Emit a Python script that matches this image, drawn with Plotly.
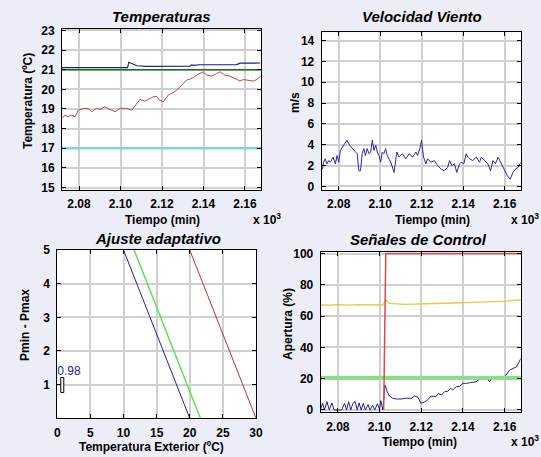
import plotly.graph_objects as go

# ---------------- data ----------------
TIME_TICKS = [2.08, 2.10, 2.12, 2.14, 2.16]
TIME_TICK_TEXT = ["2.08", "2.10", "2.12", "2.14", "2.16"]
TEXT_TICKS = [0, 5, 10, 15, 20, 25, 30]

# Temperaturas (time in thousands of minutes)
t_int = [2.0718, 2.0733, 2.0748, 2.0765, 2.0781, 2.0797, 2.0821, 2.0845, 2.0861, 2.0885,
         2.0901, 2.0925, 2.0949, 2.0974, 2.0998, 2.1030, 2.1054, 2.1078, 2.1094, 2.1118,
         2.1142, 2.1158, 2.1174, 2.1187, 2.1206, 2.1230, 2.1247, 2.1271, 2.1295, 2.1319,
         2.1335, 2.1351, 2.1375, 2.1399, 2.1416, 2.1440, 2.1464, 2.1480, 2.1504, 2.1528,
         2.1552, 2.1576, 2.1592, 2.1616, 2.1640, 2.1657, 2.1676]
temp_int = [18.52, 18.69, 18.60, 18.69, 18.60, 18.94, 19.03, 19.03, 18.86, 19.03,
            18.98, 19.11, 18.98, 18.86, 19.03, 19.03, 18.94, 19.28, 19.49, 19.40,
            19.54, 19.62, 19.65, 19.45, 19.37, 19.71, 19.79, 19.96, 20.21, 20.47,
            20.52, 20.60, 20.77, 20.89, 20.72, 20.67, 20.81, 20.89, 20.72, 20.67,
            20.55, 20.42, 20.50, 20.47, 20.42, 20.50, 20.67]

t_ref = [2.0718, 2.0760, 2.0765, 2.0770, 2.0870, 2.0875, 2.0880, 2.0935, 2.0940, 2.0945,
         2.0970, 2.0975, 2.0980, 2.1034, 2.1040, 2.1060, 2.1079, 2.1126, 2.1335, 2.1343,
         2.1351, 2.1383, 2.1560, 2.1576, 2.1673]
temp_ref = [21.10, 21.10, 21.13, 21.10, 21.10, 21.13, 21.10, 21.10, 21.13, 21.10,
            21.10, 21.13, 21.10, 21.10, 21.38, 21.28, 21.20, 21.17, 21.18, 21.24,
            21.22, 21.25, 21.26, 21.33, 21.34]

t_span = [2.0718, 2.1680]
temp_consigna = [21.0, 21.0]
temp_min = [17.0, 17.0]

# Velocidad viento
t_wind = [2.0722, 2.0727, 2.0735, 2.0743, 2.0752, 2.0760, 2.0773, 2.0784, 2.0792, 2.0800,
          2.0808, 2.0824, 2.0840, 2.0853, 2.0865, 2.0873, 2.0881, 2.0889, 2.0897, 2.0905,
          2.0913, 2.0921, 2.0929, 2.0937, 2.0946, 2.0954, 2.0962, 2.0970, 2.0978, 2.0986,
          2.0994, 2.1002, 2.1010, 2.1018, 2.1026, 2.1034, 2.1051, 2.1067, 2.1080, 2.1091,
          2.1107, 2.1123, 2.1140, 2.1156, 2.1172, 2.1180, 2.1191, 2.1199, 2.1209, 2.1220,
          2.1228, 2.1245, 2.1261, 2.1277, 2.1293, 2.1309, 2.1325, 2.1334, 2.1345, 2.1358,
          2.1369, 2.1382, 2.1390, 2.1403, 2.1414, 2.1422, 2.1430, 2.1446, 2.1463, 2.1479,
          2.1487, 2.1503, 2.1519, 2.1532, 2.1543, 2.1555, 2.1568, 2.1576, 2.1587, 2.1600,
          2.1613, 2.1626, 2.1640, 2.1652, 2.1665, 2.1678]
wind = [1.67, 2.32, 2.65, 2.16, 2.48, 2.32, 2.81, 2.16, 2.97, 2.32,
        3.46, 3.95, 4.44, 3.95, 3.63, 3.46, 3.30, 3.14, 1.50, 1.50,
        3.14, 3.63, 2.97, 3.63, 3.14, 3.30, 4.44, 3.46, 3.95, 3.30,
        2.97, 2.32, 3.30, 3.14, 3.63, 2.97, 2.32, 1.34, 3.30, 2.81,
        3.14, 2.65, 3.14, 2.81, 3.30, 2.97, 3.63, 4.44, 2.81, 2.16,
        2.65, 2.32, 2.48, 1.99, 1.67, 1.50, 1.83, 2.48, 1.99, 2.16,
        1.34, 2.16, 2.32, 2.16, 3.14, 2.81, 2.65, 2.48, 2.81, 2.32,
        2.81, 2.48, 2.16, 1.50, 2.48, 2.16, 2.81, 2.48, 1.99, 1.50,
        1.01, 0.69, 1.34, 1.67, 1.83, 2.32]

# Ajuste adaptativo
tex_blue = [10.0, 20.0]
tex_green = [11.6, 21.6]
tex_red = [20.0, 30.0]
p_lines = [5.0, 0.0]
ajuste_x = [0.8]
ajuste_base = [0.75]
ajuste_h = [0.45]
ajuste_label = "0.98"

# Senales de control
t_yel = [2.0717, 2.0760, 2.0800, 2.0850, 2.0900, 2.0950, 2.1000, 2.1015, 2.1031, 2.1047,
         2.1120, 2.1218, 2.1348, 2.1446, 2.1608, 2.1681]
ap_yel = [67.1, 67.0, 67.4, 67.0, 67.4, 67.2, 67.0, 67.1, 70.3, 68.2,
          67.5, 67.7, 68.4, 68.8, 69.6, 70.5]

t_blue = [2.0717, 2.0727, 2.0736, 2.0748, 2.0759, 2.0772, 2.0782, 2.0819, 2.0832, 2.0842,
          2.0852, 2.0862, 2.0873, 2.0883, 2.0893, 2.0902, 2.0912, 2.0922, 2.0932, 2.0945,
          2.0954, 2.0967, 2.0977, 2.0990, 2.1000, 2.1006, 2.1016, 2.1026, 2.1036, 2.1047,
          2.1063, 2.1080, 2.1104, 2.1128, 2.1153, 2.1169, 2.1185, 2.1198, 2.1215, 2.1231,
          2.1247, 2.1259, 2.1270, 2.1283, 2.1296, 2.1312, 2.1328, 2.1340, 2.1351, 2.1368,
          2.1384, 2.1400, 2.1416, 2.1437, 2.1462, 2.1481, 2.1494, 2.1514, 2.1527, 2.1540,
          2.1559, 2.1592, 2.1605, 2.1625, 2.1641, 2.1657, 2.1668, 2.1678]
ap_blue = [0.0, 4.5, 0.0, 5.3, 0.0, 4.5, 0.0, 0.0, 4.3, 0.0,
           5.3, 0.0, 4.3, 5.5, 0.0, 4.5, 0.0, 4.3, 0.0, 3.5,
           0.0, 3.0, 0.0, 4.0, 0.5, 6.0, 0.0, 16.0, 12.0, 9.0,
           7.5, 7.0, 7.0, 7.5, 7.5, 9.0, 8.0, 4.3, 5.0, 6.4,
           8.9, 8.5, 8.5, 10.6, 9.5, 11.7, 12.0, 13.8, 12.8, 14.9,
           15.0, 17.0, 17.0, 17.5, 18.0, 20.0, 20.8, 20.8, 18.0, 20.8,
           20.8, 20.8, 22.0, 25.6, 26.6, 27.5, 30.5, 33.0]

t_red = [2.1020, 2.1023, 2.1030, 2.1680]
ap_red = [0.0, 25.0, 100.0, 100.0]
ap_green = [20.6, 20.6]

# ---------------- styling ----------------
BG = "#EDEDF8"
FONT = "Liberation Sans"
GRID = "#D0D0D0"
W, H = 541, 457

fig = go.Figure()

def line(x, y, color, width, xa, ya):
    fig.add_trace(go.Scatter(x=x, y=y, mode="lines", line=dict(color=color, width=width),
                             xaxis=xa, yaxis=ya, showlegend=False, hoverinfo="skip"))

# Temperaturas
line(t_span, temp_min, "#7ADADA", 2.5, "x", "y")
line(t_int, temp_int, "#C0484A", 1, "x", "y")
line(t_span, temp_consigna, "#1E6E1E", 1.5, "x", "y")
line(t_ref, temp_ref, "#1C1C8C", 1.2, "x", "y")

# Viento
line(t_wind, wind, "#2A2AA8", 1, "x2", "y2")

# Ajuste adaptativo
line(tex_blue, p_lines, "#22228E", 1, "x3", "y3")
line(tex_green, p_lines, "#5EE05E", 1.5, "x3", "y3")
line(tex_red, p_lines, "#B83434", 1, "x3", "y3")
fig.add_trace(go.Bar(x=ajuste_x, y=ajuste_h, base=ajuste_base, width=0.45,
                     marker=dict(color="white", line=dict(color="black", width=1)),
                     xaxis="x3", yaxis="y3", showlegend=False, hoverinfo="skip"))
fig.add_trace(go.Scatter(x=[0.0], y=[1.38], mode="text", text=[ajuste_label],
                         textposition="middle right",
                         textfont=dict(family=FONT, size=12, color="#1E1EB0"),
                         xaxis="x3", yaxis="y3", showlegend=False, hoverinfo="skip"))

# Senales de control
line(t_yel, ap_yel, "#EAC840", 1.3, "x4", "y4")
line(t_blue, ap_blue, "#22228E", 1, "x4", "y4")
line(t_span, ap_green, "#86E086", 4, "x4", "y4")
line(t_red, ap_red, "#E04848", 1.5, "x4", "y4")

tickfont = dict(family=FONT, size=12, color="black", weight="bold")
labelfont = dict(family=FONT, size=12, color="black", weight="bold")

def bold(labels):
    return ["<b>%s</b>" % s for s in labels]

def xax(domain, rng, anchor, tickvals, ticktext):
    return dict(domain=domain, range=rng, anchor=anchor, showline=True, linecolor="black",
                linewidth=1, mirror="ticks", ticks="inside", ticklen=4, tickcolor="black",
                showgrid=True, gridcolor=GRID, gridwidth=1.5, zeroline=False,
                tickfont=tickfont, tickmode="array", tickvals=tickvals,
                ticktext=bold(ticktext), ticklabelstandoff=3, automargin=False,
                fixedrange=True)

def yax(domain, rng, anchor, tickvals):
    return dict(domain=domain, range=rng, anchor=anchor, showline=True, linecolor="black",
                linewidth=1, mirror="ticks", ticks="inside", ticklen=4, tickcolor="black",
                showgrid=True, gridcolor=GRID, gridwidth=1.5, zeroline=False,
                tickfont=tickfont, tickmode="array", tickvals=tickvals,
                ticktext=bold([str(v) for v in tickvals]), ticklabelstandoff=4,
                automargin=False, fixedrange=True)

fig.update_layout(
    width=W, height=H, paper_bgcolor=BG, plot_bgcolor="white",
    margin=dict(l=0, r=0, t=0, b=0), showlegend=False, bargap=0,
    xaxis=xax([0.1146, 0.4824], [2.0718, 2.1677], "y", TIME_TICKS, TIME_TICK_TEXT),
    yaxis=yax([0.5853, 0.9365], [14.9, 23.07], "x", list(range(15, 24))),
    xaxis2=xax([0.5946, 0.9625], [2.0718, 2.1677], "y2", TIME_TICKS, TIME_TICK_TEXT),
    yaxis2=yax([0.5842, 0.9293], [-0.35, 14.8], "x2", list(range(0, 15, 2))),
    xaxis3=xax([0.1059, 0.4732], [0, 30], "y3", TEXT_TICKS, [str(v) for v in TEXT_TICKS]),
    yaxis3=yax([0.0847, 0.4530], [0, 5], "x3", [1, 2, 3, 4, 5]),
    xaxis4=xax([0.5928, 0.9625], [2.0718, 2.1677], "y4", TIME_TICKS, TIME_TICK_TEXT),
    yaxis4=yax([0.0978, 0.4479], [-1.5, 100.8], "x4", list(range(0, 101, 20))),
)

def note(text, x, y, font, angle=0, xanchor="center"):
    fig.add_annotation(text=text, x=x / W, y=1 - y / H, xref="paper", yref="paper",
                       showarrow=False, font=font, textangle=angle, xanchor=xanchor,
                       yanchor="middle")

titlef = dict(family=FONT, size=15, color="black", weight="bold", style="italic")
for text, x, y in [("Temperaturas", 161, 16), ("Velocidad Viento", 422, 17),
                   ("Ajuste adaptativo", 158, 238), ("Señales de Control", 418, 240)]:
    note(text, x, y, titlef)

# axis titles
note("Tiempo (min)", 162, 220, labelfont)
note("Tiempo (min)", 432, 220, labelfont)
note("Temperatura Exterior (ºC)", 151, 447, labelfont)
note("Tiempo (min)", 420, 442, labelfont)
note("Temperatura (ºC)", 28, 101, labelfont, angle=-90)
note("m/s", 295, 103, labelfont, angle=-90)
note("Pmin - Pmax", 25, 325, labelfont, angle=-90)
note("Apertura (%)", 288, 324, labelfont, angle=-90)

for x, y in [(283, 219), (541, 219), (541, 441)]:
    note("x 10<sup>3</sup>", x, y, labelfont, xanchor="right")

fig.write_html("out.html", config={"displayModeBar": False},
               post_script="document.body.style.margin='0';document.body.style.overflow='hidden';")
